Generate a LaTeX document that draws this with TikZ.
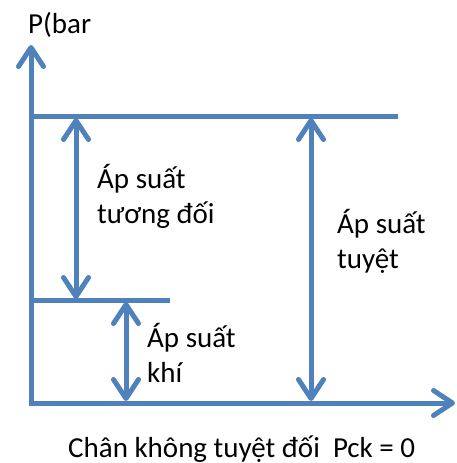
\documentclass[tikz,border=0pt]{standalone}
\usepackage{fontspec}
\setmainfont{Carlito}
\usepackage{tikz}
\usetikzlibrary{arrows.meta}
\definecolor{axisblue}{RGB}{79,129,189}

\begin{document}
\begin{tikzpicture}[x=1pt, y=-1pt,
        line/.style={draw=axisblue, line width=5pt},
        barb/.tip={Straight Barb[length=19pt,width=25pt,line cap=round,line join=round]},
        lbl/.style={font=\fontsize{29}{35}\selectfont, align=left, anchor=base west, inner sep=0pt}]
    \useasboundingbox (0,0) rectangle (457,463);
    % axes
    \coordinate (o) at (31,403);
    \coordinate (ytop) at (31,45);
    \coordinate (xend) at (455,403);
    \draw[line, -barb] (o) -- (ytop);
    \draw[line, -barb] (29,403) -- (xend);
    % levels
    \coordinate (hi) at (31,116);
    \coordinate (hiend) at (398,116);
    \coordinate (mid) at (31,300);
    \coordinate (midend) at (170,300);
    \draw[line] (hi) -- (hiend);
    \draw[line] (mid) -- (midend);
    % arrows between levels
    \coordinate (gtop) at (76,118);
    \coordinate (gbot) at (76,299);
    \coordinate (atop) at (126,302);
    \coordinate (abot) at (126,401);
    \coordinate (ptop) at (311,118);
    \coordinate (pbot) at (311,401);
    \draw[line, barb-barb] (gtop) -- (gbot);
    \draw[line, barb-barb] (atop) -- (abot);
    \draw[line, barb-barb] (ptop) -- (pbot);
    % texts (base = last line)
    \node[lbl] (pbar) at (28,33) {P(bar};
    \node[lbl] (gauge) at (97,223) {Áp suất\\tương đối};
    \node[lbl] (abs) at (337,268) {Áp suất\\tuyệt};
    \node[lbl] (atm) at (147,382) {Áp suất\\khí};
    \node[lbl] (vac) at (68,457) {Chân không tuyệt đối~ Pck = 0};
\end{tikzpicture}
\end{document}
